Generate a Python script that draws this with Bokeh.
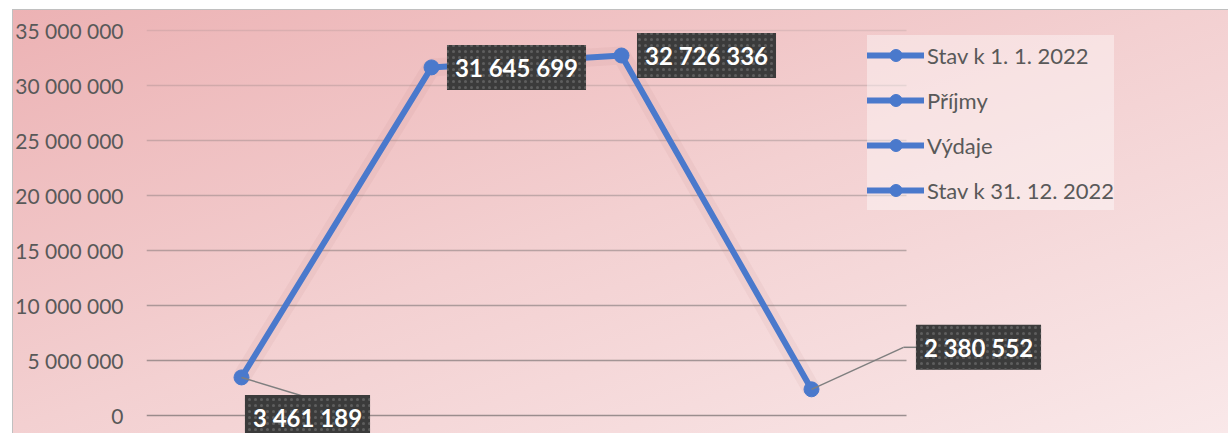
from bokeh.plotting import figure
from bokeh.models import Range1d, FixedTicker, Label, Legend, LegendItem
from bokeh.embed import file_html
from bokeh.resources import INLINE

# ---- data ----
categories = ["Stav k 1. 1. 2022", "Příjmy", "Výdaje", "Stav k 31. 12. 2022"]
values = [3461189, 31645699, 32726336, 2380552]
y_ticks = [0, 5000000, 10000000, 15000000, 20000000, 25000000, 30000000, 35000000]
y_tick_labels = ["0", "5 000 000", "10 000 000", "15 000 000", "20 000 000",
                 "25 000 000", "30 000 000", "35 000 000"]
value_labels = [f"{v:,}".replace(",", " ") for v in values]

# label placement offsets (screen px)
label_dx = [66, 85, 85, 167]
label_dy = [-40, 0, 0, 42]

W, H = 1228, 433
MB_L, MB_R, MB_T, MB_B = 146, 0, 10, 0
PX_PER_CAT = 190
frame_w = W - MB_L - MB_R
frame_h = H - MB_T - MB_B
x0 = -0.5
x1 = x0 + frame_w / PX_PER_CAT
y0, y1 = -18 / 11 * 1e6, 405 / 11 * 1e6

xs = list(range(len(categories)))

p = figure(width=W, height=H, output_backend="svg", toolbar_location=None,
           x_range=Range1d(x0, x1), y_range=Range1d(y0, y1),
           x_axis_type=None,
           min_border_left=MB_L, min_border_right=MB_R,
           min_border_top=MB_T, min_border_bottom=MB_B,
           border_fill_color=None, background_fill_color=None,
           outline_line_color=None,
           styles={"background": "linear-gradient(to bottom right, #ecb1b3, #f3d0d1 50%, #f9e8e9)",
                   "box-shadow": "inset 12px 9px 0 0 #ffffff, inset 13px 10px 0 0 #c0c0c0"})

px_x = (x1 - x0) / frame_w
px_y = (y1 - y0) / frame_h

# y axis
ax = p.yaxis[0]
ax.ticker = FixedTicker(ticks=y_ticks)
ax.major_label_overrides = {t: l for t, l in zip(y_ticks, y_tick_labels)}
ax.axis_line_color = None
ax.major_tick_line_color = None
ax.minor_tick_line_color = None
ax.major_label_standoff = 17
ax.major_label_text_font = "Lato"
ax.major_label_text_font_size = "21px"
ax.major_label_text_color = "#595959"

# horizontal gridlines limited to the category area
p.ygrid.visible = False
n = len(y_ticks)
grid_alpha = [0.68 - (0.68 - 0.15) * i / (n - 1) for i in range(n)]
p.segment(x0=[-0.5] * n, x1=[len(categories) - 0.5] * n, y0=y_ticks, y1=y_ticks,
          line_color="#6e6969", line_alpha=grid_alpha, line_width=1.3)

# line glow
p.line(xs, values, line_width=18, line_color="#9e5a5a", line_alpha=0.06)
line_r = p.line(xs, values, line_width=6, line_color="#4a79cc", line_cap="round")
scat_r = p.scatter(xs, values, size=15, fill_color="#4a79cc", line_color="#4a79cc")

# leader lines for labels below / right
lead_x0 = [xs[0], xs[3], xs[3] + 92 * px_x]
lead_y0 = [values[0], values[3], values[3] + 42 * px_y]
lead_x1 = [xs[0] + 66 * px_x, xs[3] + 92 * px_x, xs[3] + 105 * px_x]
lead_y1 = [values[0] - 20 * px_y, values[3] + 42 * px_y, values[3] + 42 * px_y]
p.segment(lead_x0, lead_y0, lead_x1, lead_y1, line_color="#7f7f7f", line_width=1.5)

# data labels
for i in range(len(values)):
    shadow = Label(x=xs[i], y=values[i], x_offset=label_dx[i] + 4, y_offset=label_dy[i] - 4,
                   text=value_labels[i], text_font="Lato", text_font_size="24px",
                   text_font_style="bold", text_alpha=0.0,
                   text_align="center", text_baseline="middle",
                   background_fill_color="#000000", background_fill_alpha=0.22,
                   padding=8)
    p.add_layout(shadow)
    lab = Label(x=xs[i], y=values[i], x_offset=label_dx[i], y_offset=label_dy[i],
                text=value_labels[i], text_font="Lato", text_font_size="24px",
                text_font_style="bold", text_color="white",
                text_align="center", text_baseline="middle",
                background_fill_color="#3b3b3b", background_fill_alpha=1.0,
                background_hatch_pattern=".", background_hatch_color="#5e5e5e",
                background_hatch_scale=6, background_hatch_weight=1.2,
                padding=8)
    p.add_layout(lab)

legend = Legend(items=[LegendItem(label=c, renderers=[line_r, scat_r]) for c in categories],
                location=(721, 223),
                background_fill_color="#ffffff", background_fill_alpha=0.4,
                border_line_color=None,
                label_text_font="Lato", label_text_font_size="22px",
                label_text_color="#595959",
                glyph_width=57, glyph_height=30, label_height=40,
                label_standoff=3, spacing=5, padding=8, margin=0)
p.add_layout(legend)

open("out.html", "w").write(file_html(p, INLINE))
